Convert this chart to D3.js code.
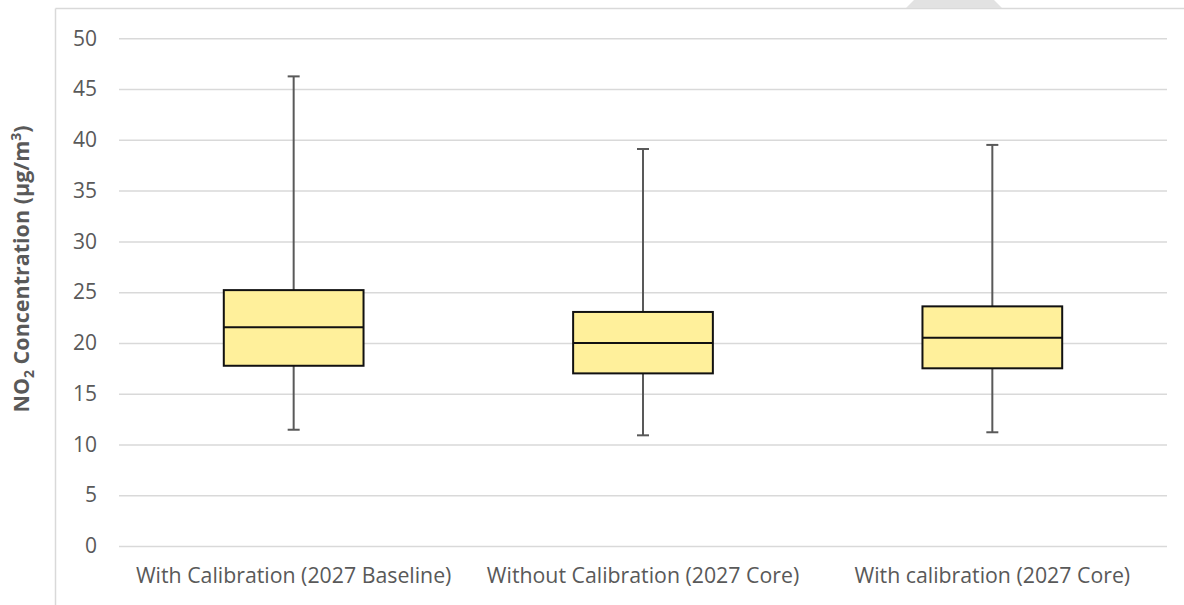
<!DOCTYPE html>
<html><head><meta charset="utf-8">
<script src="https://cdn.jsdelivr.net/npm/d3@7"></script>
<style>body{margin:0;background:#fff;} svg{display:block;}</style>
</head><body>
<svg id="chart" width="1184" height="605"></svg>
<script>
const categories = ["With Calibration (2027 Baseline)", "Without Calibration (2027 Core)", "With calibration (2027 Core)"];
const whiskerLow = [11.45, 10.9, 11.2];
const q1 = [17.75, 17.0, 17.5];
const median = [21.55, 20.0, 20.5];
const q3 = [25.2, 23.05, 23.6];
const whiskerHigh = [46.25, 39.1, 39.5];
const yTicks = [0, 5, 10, 15, 20, 25, 30, 35, 40, 45, 50];

const svg = d3.select("#chart");
const W = 1184, H = 605;
const mLeft = 119, mRight = 1167, mTop = 38.3, mBottom = 546;
const font = "'Open Sans', sans-serif";

// outer frame
svg.append("line").attr("x1", 55.5).attr("x2", W).attr("y1", 8.5).attr("y2", 8.5)
  .attr("stroke", "#d9d9d9").attr("stroke-width", 1.5);
svg.append("line").attr("x1", 55.5).attr("x2", 55.5).attr("y1", 8.5).attr("y2", H)
  .attr("stroke", "#d9d9d9").attr("stroke-width", 1.5);
svg.append("polygon").attr("points", "906,8 1002,8 994,0 914,0").attr("fill", "#e2e2e2");

const x = d3.scaleBand().domain(categories).range([mLeft, mRight]).padding(0);
const y = d3.scaleLinear().domain([0, 50]).range([mBottom, mTop]);

// gridlines
const yAxis = d3.axisLeft(y).tickValues(yTicks).tickSize(-(mRight - mLeft)).tickPadding(22);
const ga = svg.append("g").attr("transform", `translate(${mLeft},0)`).call(yAxis);
ga.select(".domain").remove();
ga.selectAll(".tick line").attr("stroke", "#d9d9d9").attr("stroke-width", 1.5);
ga.selectAll(".tick text").attr("fill", "#595959").style("font-family", font).style("font-size", "21px");

// x axis labels
const xAxis = d3.axisBottom(x).tickSize(0).tickPadding(22);
const gx = svg.append("g").attr("transform", `translate(0,${mBottom})`).call(xAxis);
gx.select(".domain").remove();
gx.selectAll(".tick text").attr("fill", "#595959").style("font-family", font).style("font-size", "21.3px");

// boxes
const bw = x.bandwidth() * 0.4;
const capW = 12;
const idx = d3.range(categories.length);
const g = svg.append("g");
idx.forEach(i => {
  const cx = x(categories[i]) + x.bandwidth() / 2;
  g.append("line").attr("x1", cx).attr("x2", cx).attr("y1", y(whiskerHigh[i])).attr("y2", y(q3[i]))
    .attr("stroke", "#595959").attr("stroke-width", 2);
  g.append("line").attr("x1", cx).attr("x2", cx).attr("y1", y(q1[i])).attr("y2", y(whiskerLow[i]))
    .attr("stroke", "#595959").attr("stroke-width", 2);
  g.append("line").attr("x1", cx - capW / 2).attr("x2", cx + capW / 2).attr("y1", y(whiskerHigh[i])).attr("y2", y(whiskerHigh[i]))
    .attr("stroke", "#595959").attr("stroke-width", 2);
  g.append("line").attr("x1", cx - capW / 2).attr("x2", cx + capW / 2).attr("y1", y(whiskerLow[i])).attr("y2", y(whiskerLow[i]))
    .attr("stroke", "#595959").attr("stroke-width", 2);
  g.append("rect").attr("x", cx - bw / 2).attr("y", y(q3[i])).attr("width", bw).attr("height", y(q1[i]) - y(q3[i]))
    .attr("fill", "#fff09b").attr("stroke", "#111").attr("stroke-width", 2);
  g.append("line").attr("x1", cx - bw / 2).attr("x2", cx + bw / 2).attr("y1", y(median[i])).attr("y2", y(median[i]))
    .attr("stroke", "#111").attr("stroke-width", 2);
});

// y title
const t = svg.append("text").attr("transform", "translate(29,269) rotate(-90)")
  .attr("text-anchor", "middle").attr("fill", "#595959")
  .style("font-family", font).style("font-size", "21.5px").style("font-weight", "bold");
t.append("tspan").text("NO");
t.append("tspan").text("2").attr("dy", 5).style("font-size", "14px");
t.append("tspan").text(" Concentration (µg/m").attr("dy", -5);
t.append("tspan").text("3").attr("dy", -8).style("font-size", "14px");
t.append("tspan").text(")").attr("dy", 8);
</script>
</body></html>
